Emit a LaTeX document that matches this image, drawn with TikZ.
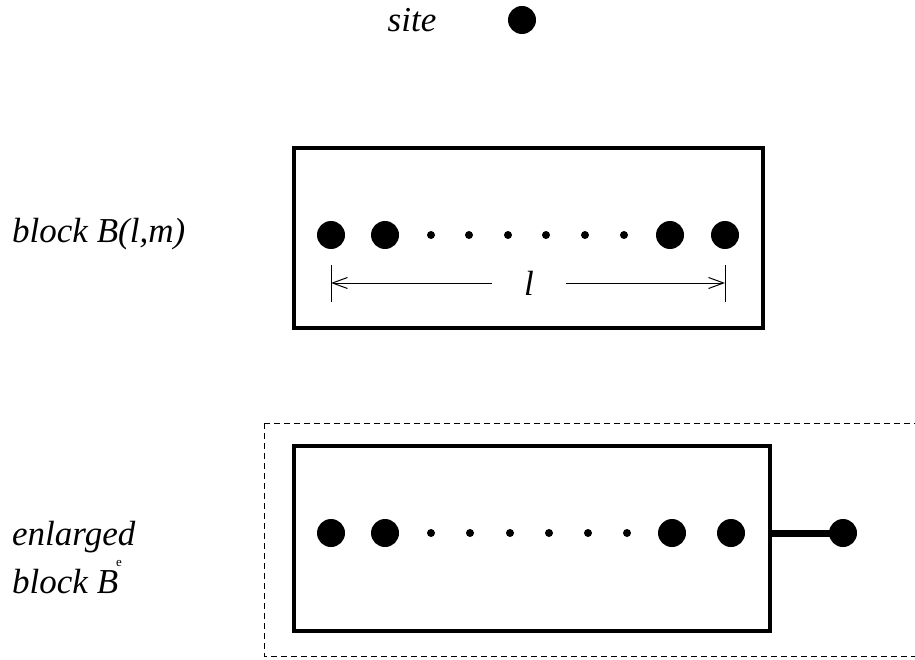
\documentclass[tikz,border=0pt]{standalone}
\usepackage{fontspec}
\setmainfont{Liberation Serif}
\usetikzlibrary{arrows.meta}
\tikzset{
  bigdot/.style={circle,fill=black,inner sep=0pt,minimum size=28},
  smalldot/.style={circle,fill=black,inner sep=0pt,minimum size=8},
  lbl/.style={font=\fontsize{35}{40}\selectfont\itshape,inner sep=0pt,anchor=base west},
  blockbox/.style={draw=black,line width=4,inner sep=0pt},
  dimline/.style={line width=1,-{Straight Barb[length=15,width=11,line width=1]}},
  tick/.style={line width=1},
}
\begin{document}
\begin{tikzpicture}[x=1pt,y=-1pt]
\useasboundingbox (0,0) rectangle (915,660);
% site
\node[lbl,anchor=base] (site) at (412,32) {site};
\node[bigdot] (sdot) at (522,20) {};
% block B(l,m)
\node[lbl] (blab) at (12,243) {block B(l,m)};
\node[blockbox,minimum width=469,minimum height=180] (box1) at (528.5,238) {};
\node[bigdot] (a1) at (331,235) {};
\node[bigdot] (a2) at (385,235) {};
\foreach \x [count=\i] in {431,469,508,546,585,624} \node[smalldot] (as\i) at (\x,235) {};
\node[bigdot] (a3) at (670,235) {};
\node[bigdot] (a4) at (725,235) {};
% dimension
\coordinate (tl) at (331,283);
\coordinate (tr) at (725,283);
\draw[tick] ([yshift=-19]tl) -- ([yshift=18]tl);
\draw[tick] ([yshift=-19]tr) -- ([yshift=18]tr);
\node[font=\fontsize{35}{40}\selectfont\itshape,inner sep=0pt,minimum width=74,minimum height=20] (llab) at (529,283) {l};
\draw[dimline] (llab.west) -- (tl);
\draw[dimline] (llab.east) -- (tr);
% enlarged block
\draw[line width=1,dash pattern=on 6 off 4] (264,423) -- (930,423);
\draw[line width=1,dash pattern=on 6 off 4] (264,423) -- (264,656) -- (930,656);
\node[lbl] (elab1) at (12,545) {enlarged};
\node[lbl] (elab2) at (12,593) {block B};
\node[font=\fontsize{13}{15}\selectfont,inner sep=0pt,anchor=base] (etil) at (119,566) {e};
\node[blockbox,minimum width=476,minimum height=185] (box2) at (532,538.5) {};
\node[bigdot] (b1) at (331,533) {};
\node[bigdot] (b2) at (385,533) {};
\foreach \x [count=\i] in {431,470,510,549,588,627} \node[smalldot] (bs\i) at (\x,533) {};
\node[bigdot] (b3) at (672,533) {};
\node[bigdot] (b4) at (731,533) {};
\node[bigdot] (ext) at (843,533) {};
\draw[line width=7] (box2.east |- ext) -- (ext.center);
\end{tikzpicture}
\end{document}
